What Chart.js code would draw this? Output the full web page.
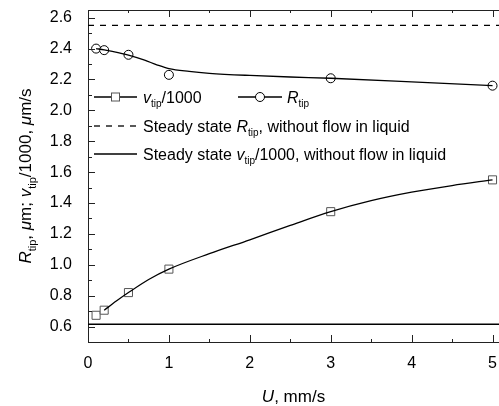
<!DOCTYPE html>
<html>
<head>
<meta charset="utf-8">
<script src="https://cdn.jsdelivr.net/npm/chart.js@4/dist/chart.umd.min.js"></script>
<style>
html,body{margin:0;padding:0;background:#fff;}
#wrap{width:499px;height:406px;position:relative;}
</style>
</head>
<body>
<div id="wrap"><canvas id="c" width="499" height="406"></canvas></div>
<script>
// ---- data ----
const uPoints = [0.1, 0.2, 0.5, 1, 3, 5];
const rTip = [2.40, 2.39, 2.36, 2.23, 2.208, 2.16];
const vTip = [0.673, 0.706, 0.82, 0.972, 1.344, 1.55];

const rFitU = [0.1, 0.2, 0.3, 0.5, 0.7, 0.85, 1, 1.25, 1.5, 2, 2.5, 3, 4, 5];
const rFit  = [2.40, 2.392, 2.382, 2.358, 2.325, 2.295, 2.27, 2.252, 2.24, 2.226, 2.216, 2.208, 2.185, 2.16];

const vFitU = [0.2, 0.35, 0.5, 0.75, 1, 1.5, 2, 2.5, 3, 3.5, 4, 4.5, 5];
const vFit  = [0.706, 0.765, 0.82, 0.905, 0.972, 1.072, 1.162, 1.255, 1.344, 1.415, 1.47, 1.513, 1.55];

const steadyR = 2.55;
const steadyV = 0.615;

const xTicks = [0, 1, 2, 3, 4, 5];
const yTicks = [0.6, 0.8, 1.0, 1.2, 1.4, 1.6, 1.8, 2.0, 2.2, 2.4, 2.6];
const xRange = [0, 5.08];
const yRange = [0.5, 2.65];

const FONT = '"Liberation Sans", Arial, sans-serif';

function pts(xs, ys){ return xs.map((x,i)=>({x:x, y:ys[i]})); }

function richWidth(ctx, segs, size){
  let w = 0;
  segs.forEach(s=>{
    const fs = s.sub ? Math.round(size*0.62) : size;
    ctx.font = (s.it ? 'italic ' : '') + fs + 'px ' + FONT;
    w += ctx.measureText(s.t).width;
  });
  return w;
}
function drawRich(ctx, segs, x, y, size, align){
  let cx = x;
  if (align === 'center') cx = x - richWidth(ctx, segs, size)/2;
  ctx.textBaseline = 'alphabetic';
  ctx.textAlign = 'left';
  segs.forEach(s=>{
    const fs = s.sub ? Math.round(size*0.62) : size;
    ctx.font = (s.it ? 'italic ' : '') + fs + 'px ' + FONT;
    ctx.fillText(s.t, cx, y + (s.sub ? size*0.28 : 0));
    cx += ctx.measureText(s.t).width;
  });
}

const decor = {
  id: 'decor',
  afterDraw(chart){
    const ctx = chart.ctx;
    const xs = chart.scales.x, ys = chart.scales.y;
    const a = chart.chartArea;
    ctx.save();
    ctx.strokeStyle = '#222';
    ctx.lineWidth = 1;
    ctx.beginPath();
    ctx.moveTo(a.left, Math.round(a.top) + 0.5); ctx.lineTo(a.right, Math.round(a.top) + 0.5);
    ctx.stroke();
    for (let k = 0; k <= 10; k++){
      const v = k*0.5;
      const major = (k % 2) === 0;
      const px = Math.round(xs.getPixelForValue(v)) + 0.5;
      const len = major ? 7 : 3;
      ctx.beginPath();
      ctx.moveTo(px, a.bottom); ctx.lineTo(px, a.bottom - len);
      ctx.moveTo(px, a.top); ctx.lineTo(px, a.top + len);
      ctx.stroke();
    }
    for (let k = 6; k <= 26; k++){
      const v = k/10;
      const major = (k % 2) === 0;
      const py = Math.round(ys.getPixelForValue(v)) + 0.5;
      const len = major ? 7 : 4;
      ctx.beginPath();
      ctx.moveTo(a.left, py); ctx.lineTo(a.left + len, py);
      ctx.stroke();
    }
    ctx.restore();

    // axis titles
    ctx.save();
    ctx.fillStyle = '#000';
    drawRich(ctx, [{t:'U', it:true},{t:', mm/s'}], (a.left + a.right)/2, 402, 17, 'center');
    ctx.translate(31, (a.top + a.bottom)/2);
    ctx.rotate(-Math.PI/2);
    drawRich(ctx, [
      {t:'R', it:true},{t:'tip', sub:true},{t:', '},{t:'\u03bc', it:true},{t:'m; '},
      {t:'v', it:true},{t:'tip', sub:true},{t:'/1000, '},{t:'\u03bc', it:true},{t:'m/s'}
    ], 0, 0, 17, 'center');
    ctx.restore();

    // legend
    ctx.save();
    ctx.fillStyle = '#000';
    const L = a.left;
    const rows = [a.top + 87, a.top + 116, a.top + 144];
    ctx.strokeStyle = '#000'; ctx.lineWidth = 1.3;
    ctx.beginPath(); ctx.moveTo(L+6, rows[0]); ctx.lineTo(L+49, rows[0]); ctx.stroke();
    ctx.fillStyle = '#fff'; ctx.strokeStyle = '#555'; ctx.lineWidth = 1;
    ctx.fillRect(L+23.5, rows[0]-4, 8, 8); ctx.strokeRect(L+23.5, rows[0]-4, 8, 8);
    ctx.fillStyle = '#000';
    drawRich(ctx, [{t:'v', it:true},{t:'tip', sub:true},{t:'/1000'}], L+55, rows[0]+6, 16, 'left');
    ctx.strokeStyle = '#000'; ctx.lineWidth = 1.3;
    ctx.beginPath(); ctx.moveTo(L+150, rows[0]); ctx.lineTo(L+194, rows[0]); ctx.stroke();
    ctx.fillStyle = '#fff'; ctx.lineWidth = 1;
    ctx.beginPath(); ctx.arc(L+172, rows[0], 4.5, 0, Math.PI*2); ctx.fill(); ctx.stroke();
    ctx.fillStyle = '#000';
    drawRich(ctx, [{t:'R', it:true},{t:'tip', sub:true}], L+199, rows[0]+6, 16, 'left');
    ctx.strokeStyle = '#000'; ctx.lineWidth = 1.3; ctx.setLineDash([6,6]);
    ctx.beginPath(); ctx.moveTo(L+6, rows[1]); ctx.lineTo(L+49, rows[1]); ctx.stroke();
    ctx.setLineDash([]);
    drawRich(ctx, [{t:'Steady state '},{t:'R', it:true},{t:'tip', sub:true},{t:', without flow in liquid'}], L+55, rows[1]+6, 16, 'left');
    ctx.lineWidth = 1.5;
    ctx.beginPath(); ctx.moveTo(L+6, rows[2]); ctx.lineTo(L+49, rows[2]); ctx.stroke();
    drawRich(ctx, [{t:'Steady state '},{t:'v', it:true},{t:'tip', sub:true},{t:'/1000, without flow in liquid'}], L+55, rows[2]+6, 16, 'left');
    ctx.restore();
  }
};

new Chart(document.getElementById('c'), {
  type: 'scatter',
  data: {
    datasets: [
      { label: 'steadyR', data: pts(xRange, [steadyR, steadyR]), showLine: true, borderColor: '#000', borderWidth: 1.3, borderDash: [6,6], pointRadius: 0 },
      { label: 'steadyV', data: pts(xRange, [steadyV, steadyV]), showLine: true, borderColor: '#000', borderWidth: 1.5, pointRadius: 0 },
      { label: 'rFit', data: pts(rFitU, rFit), showLine: true, borderColor: '#000', borderWidth: 1.3, pointRadius: 0, cubicInterpolationMode: 'monotone' },
      { label: 'vFit', data: pts(vFitU, vFit), showLine: true, borderColor: '#000', borderWidth: 1.3, pointRadius: 0, cubicInterpolationMode: 'monotone' },
      { label: 'R_tip', data: pts(uPoints, rTip), showLine: false, pointStyle: 'circle', pointRadius: 4.5, pointBackgroundColor: '#fff', pointBorderColor: '#000', pointBorderWidth: 1 },
      { label: 'v_tip', data: pts(uPoints, vTip), showLine: false, pointStyle: 'rect', pointRadius: 5.7, pointBackgroundColor: '#fff', pointBorderColor: '#555', pointBorderWidth: 1 }
    ]
  },
  options: {
    responsive: false,
    animation: false,
    clip: false,
    layout: { autoPadding: false, padding: { left: 0, right: 0, top: 10, bottom: 0 } },
    plugins: { legend: { display: false }, tooltip: { enabled: false } },
    scales: {
      x: {
        type: 'linear', min: xRange[0], max: xRange[1],
        grid: { display: false, drawTicks: false },
        border: { display: true, color: '#222', width: 1 },
        afterBuildTicks: s => { s.ticks = xTicks.map(v => ({ value: v })); },
        afterFit: s => { s.height = 64; s.paddingLeft = 0; s.paddingRight = 0; },
        ticks: { color: '#000', font: { family: FONT, size: 16 }, padding: 12, maxRotation: 0, callback: v => String(v) }
      },
      y: {
        type: 'linear', min: yRange[0], max: yRange[1],
        grid: { display: false, drawTicks: false },
        border: { display: true, color: '#222', width: 1 },
        afterBuildTicks: s => { s.ticks = yTicks.map(v => ({ value: v })); },
        afterFit: s => { s.width = 88; s.paddingTop = 0; s.paddingBottom = 0; },
        ticks: { color: '#000', font: { family: FONT, size: 16 }, padding: 16, callback: v => Number(v).toFixed(1) }
      }
    }
  },
  plugins: [decor]
});
</script>
</body>
</html>
